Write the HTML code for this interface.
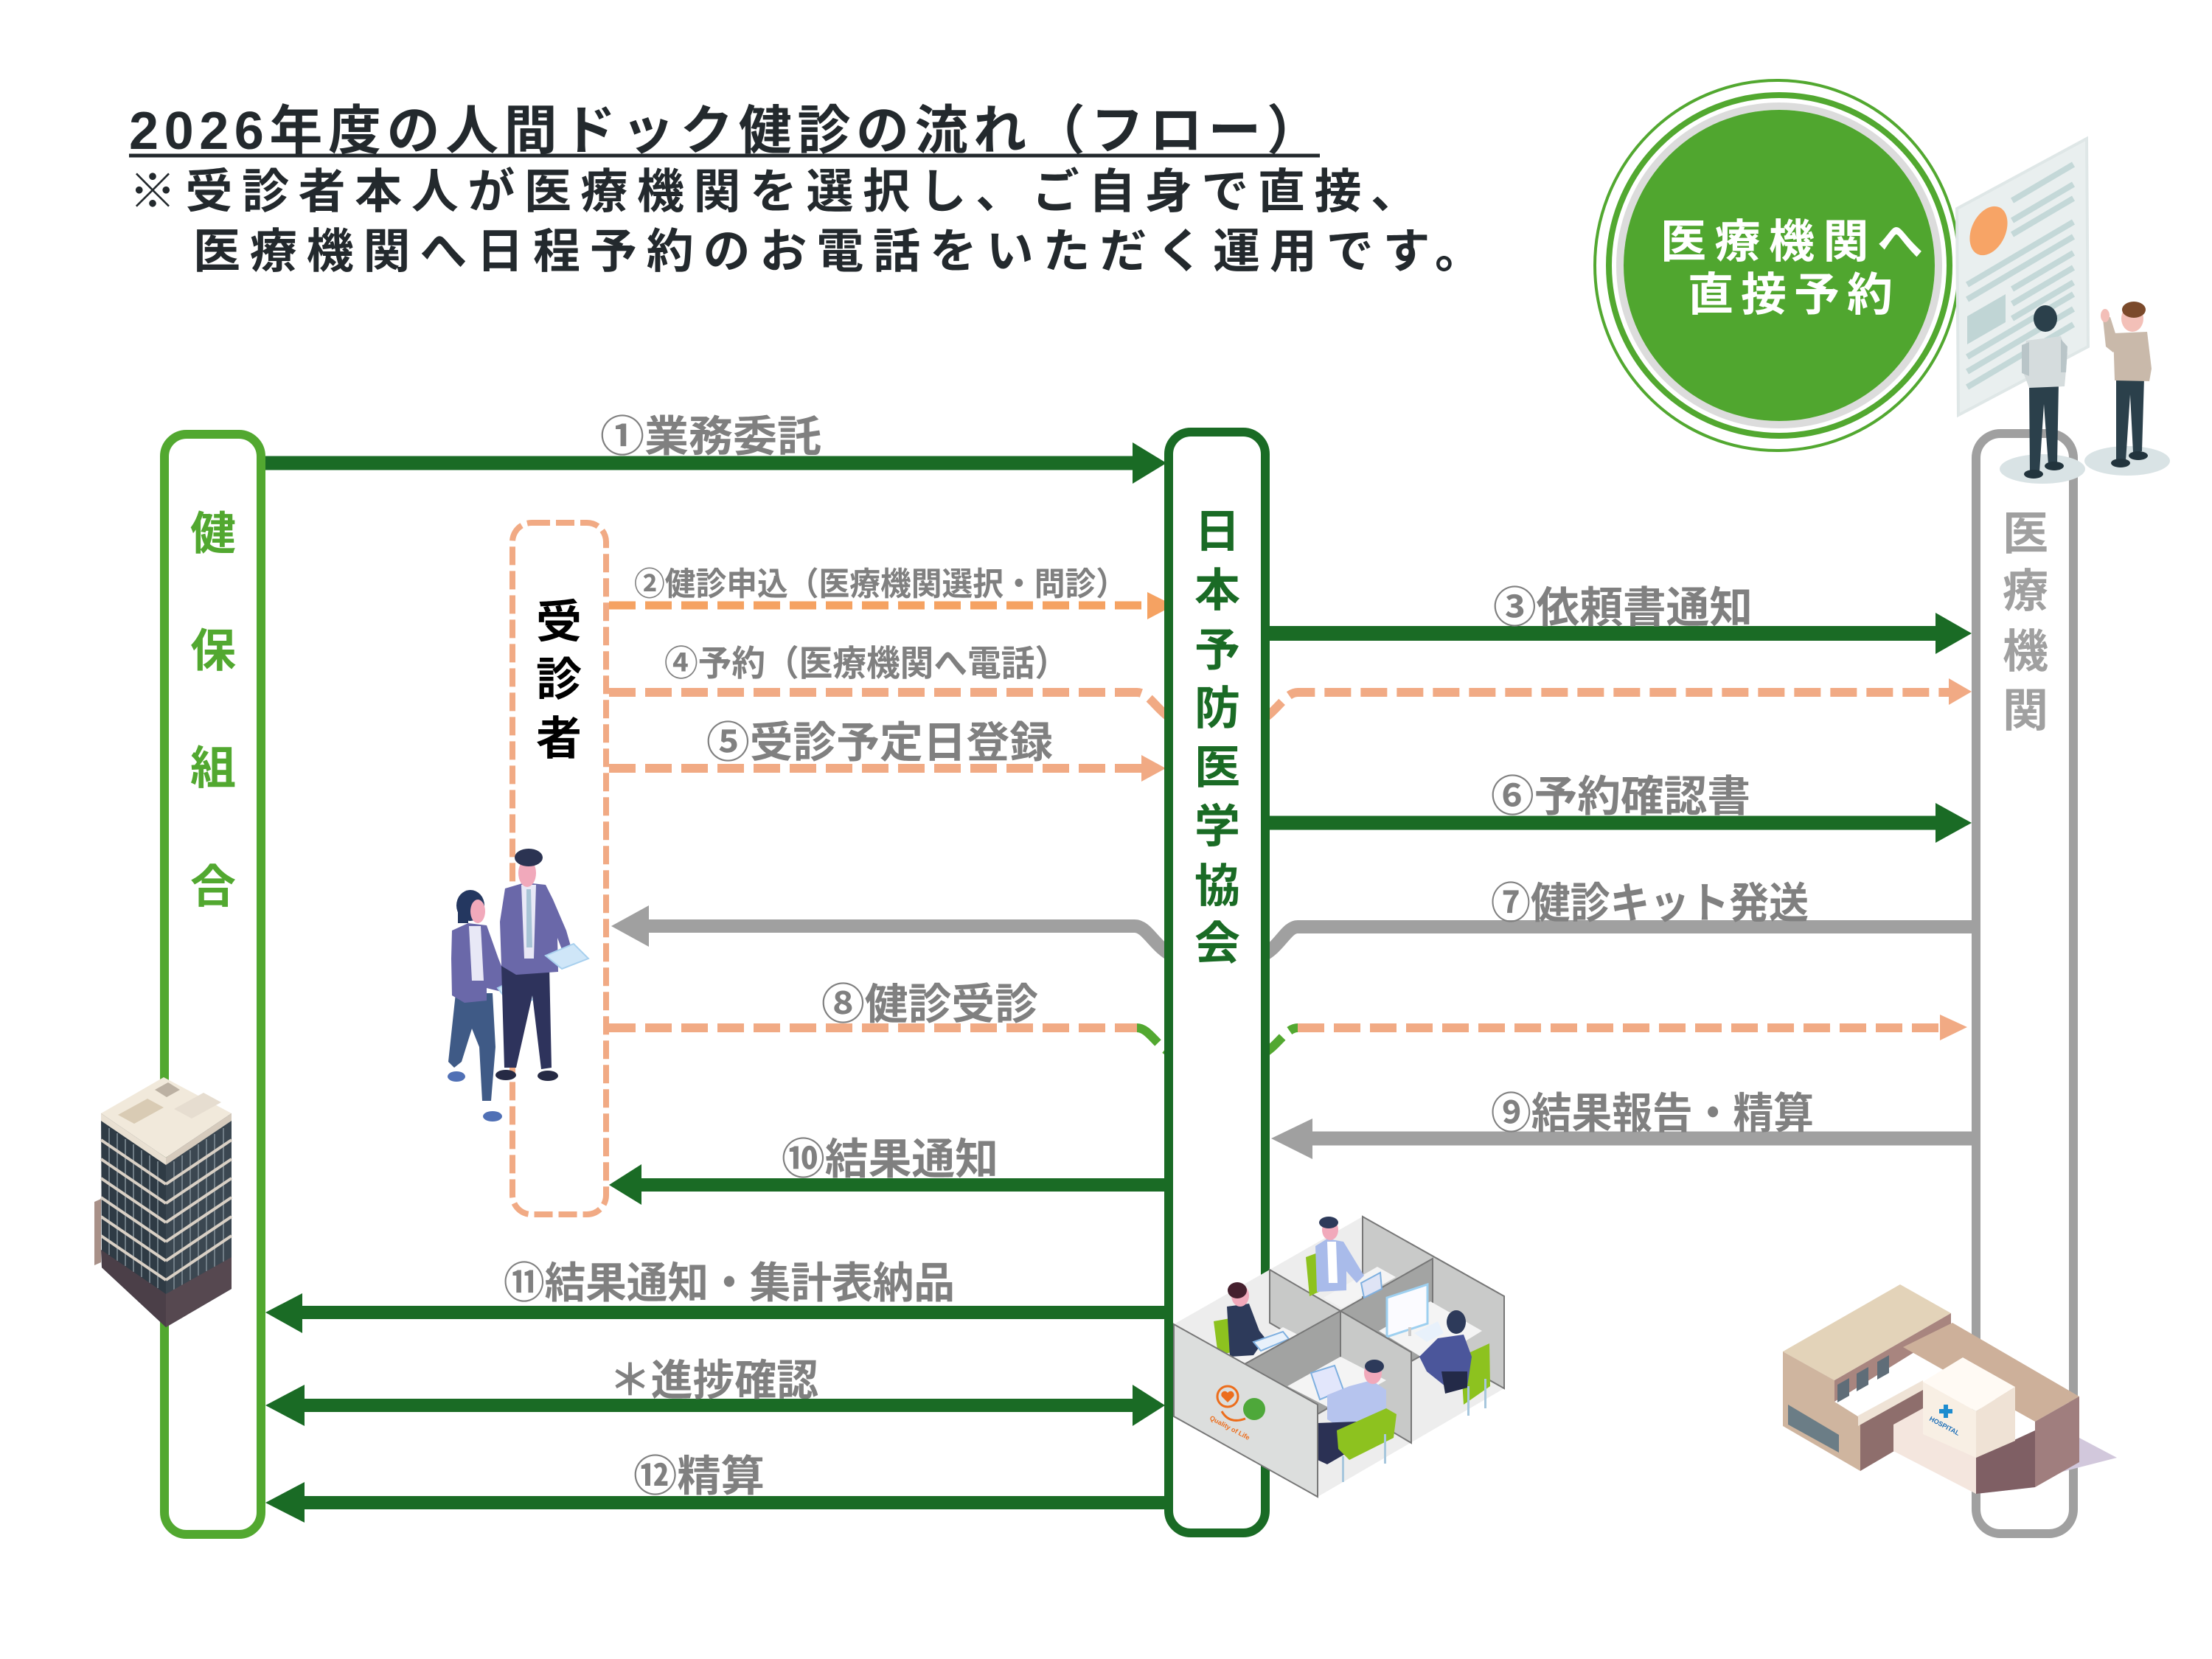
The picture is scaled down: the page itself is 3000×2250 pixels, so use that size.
<!DOCTYPE html>
<html><head><meta charset="utf-8"><style>
html,body{margin:0;padding:0;background:#fff;}
svg{display:block;}
text{font-family:"Liberation Sans","Noto Sans CJK JP",sans-serif;font-weight:bold;}
</style></head><body>
<svg width="3000" height="2250" viewBox="0 0 3000 2250" xmlns="http://www.w3.org/2000/svg">
<rect width="3000" height="2250" fill="#fff"/>

<!-- Title -->
<text x="175" y="202" font-size="72" fill="#23292d" textLength="1615" lengthAdjust="spacing">2026年度の人間ドック健診の流れ（フロー）</text>
<line x1="175" y1="211" x2="1790" y2="211" stroke="#23292d" stroke-width="5"/>
<text x="175" y="282" font-size="64" fill="#23292d" textLength="1748" lengthAdjust="spacing">※受診者本人が医療機関を選択し、ご自身で直接、</text>
<text x="262" y="363" font-size="64" fill="#23292d" textLength="1748" lengthAdjust="spacing">医療機関へ日程予約のお電話をいただく運用です。</text>

<!-- Green circle -->
<ellipse cx="2410" cy="360" rx="247" ry="251" fill="none" stroke="#52a830" stroke-width="4"/>
<circle cx="2413" cy="360" r="231" fill="none" stroke="#52a830" stroke-width="8"/>
<circle cx="2413" cy="360" r="216" fill="none" stroke="#dcdcdc" stroke-width="10"/>
<circle cx="2413" cy="360" r="211" fill="#50a62f"/>
<text x="2252" y="349" font-size="62" fill="#fff" textLength="356" lengthAdjust="spacing">医療機関へ</text>
<text x="2289" y="421" font-size="62" fill="#fff" textLength="278" lengthAdjust="spacing">直接予約</text>

<!-- Document panel top right -->
<polygon points="2654,283 2830,188 2832,470 2656,563" fill="#e9efef" stroke="#dfe7e7" stroke-width="4"/>
<ellipse cx="2697" cy="313" rx="23" ry="35" transform="rotate(25 2697 313)" fill="#f7a466"/>
<g stroke="#c4d8d8" stroke-width="8">
<line x1="2729" y1="272" x2="2812" y2="223"/>
<line x1="2729" y1="299" x2="2812" y2="250"/>
<line x1="2729" y1="318" x2="2812" y2="269"/>
<line x1="2668" y1="386" x2="2812" y2="301"/>
<line x1="2668" y1="406" x2="2812" y2="321"/>
<line x1="2729" y1="392" x2="2812" y2="343"/>
<line x1="2729" y1="412" x2="2812" y2="363"/>
<line x1="2729" y1="432" x2="2812" y2="383"/>
<line x1="2668" y1="484" x2="2812" y2="399"/>
<line x1="2668" y1="504" x2="2812" y2="419"/>
<line x1="2668" y1="525" x2="2812" y2="440"/>
</g>
<polygon points="2668,429 2720,399 2720,437 2668,467" fill="#c0d5d5"/>

<!-- ===== Connector lines ===== -->
<line x1="360" y1="628" x2="1540" y2="628" stroke="#1a6b25" stroke-width="19"/>
<polygon points="1582,628 1536,600 1536,656" fill="#1a6b25"/>
<line x1="826" y1="821" x2="1558" y2="821" stroke="#f5a262" stroke-width="11" stroke-dasharray="36 13"/>
<polygon points="1592,821 1556,803 1556,840" fill="#f5a262"/>
<path d="M826,939 H1542 C1558,939 1568,962 1590,976" fill="none" stroke="#f1aa84" stroke-width="12" stroke-dasharray="36 13"/>
<path d="M1712,976 C1734,962 1744,939 1760,939 H2645" fill="none" stroke="#f1aa84" stroke-width="12" stroke-dasharray="36 13"/>
<polygon points="2674,938 2643,920 2643,956" fill="#f1aa84"/>
<line x1="826" y1="1042" x2="1550" y2="1042" stroke="#f1aa84" stroke-width="12" stroke-dasharray="36 13"/>
<polygon points="1581,1042 1548,1024 1548,1060" fill="#f1aa84"/>
<line x1="1716" y1="859" x2="2628" y2="859" stroke="#1a6b25" stroke-width="20"/>
<polygon points="2674,859 2625,831 2625,887" fill="#1a6b25"/>
<line x1="1716" y1="1116" x2="2628" y2="1116" stroke="#1a6b25" stroke-width="19"/>
<polygon points="2674,1116 2625,1089 2625,1143" fill="#1a6b25"/>
<path d="M2674,1257 H1760 C1744,1257 1736,1285 1710,1297" fill="none" stroke="#a0a0a0" stroke-width="18"/>
<path d="M1592,1297 C1566,1285 1556,1256 1539,1256 H876" fill="none" stroke="#a0a0a0" stroke-width="18"/>
<polygon points="829,1256 880,1228 880,1284" fill="#a0a0a0"/>
<line x1="826" y1="1394" x2="1542" y2="1394" stroke="#f1aa84" stroke-width="12" stroke-dasharray="36 13"/>
<path d="M1542,1394 C1558,1394 1568,1418 1590,1430" fill="none" stroke="#52a830" stroke-width="12" stroke-dasharray="36 13"/>
<path d="M1712,1430 C1734,1418 1744,1394 1760,1394" fill="none" stroke="#52a830" stroke-width="12" stroke-dasharray="36 13"/>
<line x1="1760" y1="1394" x2="2633" y2="1394" stroke="#f1aa84" stroke-width="12" stroke-dasharray="36 13"/>
<polygon points="2668,1393 2631,1376 2631,1411" fill="#f1aa84"/>
<line x1="2674" y1="1544" x2="1776" y2="1544" stroke="#a0a0a0" stroke-width="19"/>
<polygon points="1724,1544 1780,1517 1780,1572" fill="#a0a0a0"/>
<line x1="1585" y1="1607" x2="866" y2="1607" stroke="#1a6b25" stroke-width="18"/>
<polygon points="826,1607 870,1579 870,1634" fill="#1a6b25"/>
<line x1="1585" y1="1780" x2="405" y2="1780" stroke="#1a6b25" stroke-width="18"/>
<polygon points="360,1780 410,1754 410,1808" fill="#1a6b25"/>
<line x1="410" y1="1906" x2="1540" y2="1906" stroke="#1a6b25" stroke-width="18"/>
<polygon points="360,1906 413,1878 413,1934" fill="#1a6b25"/>
<polygon points="1580,1906 1536,1878 1536,1934" fill="#1a6b25"/>
<line x1="1585" y1="2038" x2="410" y2="2038" stroke="#1a6b25" stroke-width="18"/>
<polygon points="360,2038 413,2010 413,2065" fill="#1a6b25"/>

<!-- ===== Boxes ===== -->
<rect x="223" y="589" width="131" height="1492" rx="30" fill="#fff" stroke="#52a830" stroke-width="12"/>
<rect x="695" y="709" width="127" height="938" rx="26" fill="none" stroke="#f1aa84" stroke-width="8" stroke-dasharray="25 8"/>
<rect x="1585" y="586" width="131" height="1493" rx="30" fill="#fff" stroke="#1a6b25" stroke-width="12"/>
<rect x="2680" y="588" width="132" height="1492" rx="33" fill="#fff" stroke="#a0a0a0" stroke-width="12"/>

<g font-size="62" text-anchor="middle">
<g fill="#52a830">
<text x="289" y="745">健</text><text x="289" y="904">保</text><text x="289" y="1063">組</text><text x="289" y="1224">合</text>
</g>
<g fill="#000">
<text x="758" y="865">受</text><text x="758" y="943">診</text><text x="758" y="1023">者</text>
</g>
<g fill="#1a6b25">
<text x="1651" y="742">日</text><text x="1651" y="822">本</text><text x="1651" y="903">予</text><text x="1651" y="982">防</text>
<text x="1651" y="1062">医</text><text x="1651" y="1142">学</text><text x="1651" y="1223">協</text><text x="1651" y="1301">会</text>
</g>
<g fill="#a0a0a0">
<text x="2747" y="745">医</text><text x="2747" y="823">療</text><text x="2747" y="905">機</text><text x="2747" y="985">関</text>
</g>
</g>

<g fill="#808080">
<text x="814" y="612" font-size="58" textLength="300" lengthAdjust="spacingAndGlyphs">①業務委託</text>
<text x="860" y="807" font-size="44" textLength="668" lengthAdjust="spacingAndGlyphs">②健診申込（医療機関選択・問診）</text>
<text x="901" y="916" font-size="48" textLength="548" lengthAdjust="spacingAndGlyphs">④予約（医療機関へ電話）</text>
<text x="958" y="1027" font-size="58" textLength="470" lengthAdjust="spacingAndGlyphs">⑤受診予定日登録</text>
<text x="2025" y="844" font-size="58" textLength="352" lengthAdjust="spacingAndGlyphs">③依頼書通知</text>
<text x="2022" y="1100" font-size="58" textLength="352" lengthAdjust="spacingAndGlyphs">⑥予約確認書</text>
<text x="2022" y="1245" font-size="58" textLength="431" lengthAdjust="spacingAndGlyphs">⑦健診キット発送</text>
<text x="1114" y="1382" font-size="58" textLength="294" lengthAdjust="spacingAndGlyphs">⑧健診受診</text>
<text x="2022" y="1530" font-size="58" textLength="438" lengthAdjust="spacingAndGlyphs">⑨結果報告・精算</text>
<text x="1060" y="1592" font-size="58" textLength="294" lengthAdjust="spacingAndGlyphs">⑩結果通知</text>
<text x="683" y="1760" font-size="58" textLength="612" lengthAdjust="spacingAndGlyphs">⑪結果通知・集計表納品</text>
<text x="826" y="1892" font-size="58" textLength="284" lengthAdjust="spacingAndGlyphs">＊進捗確認</text>
<text x="859" y="2022" font-size="58" textLength="178" lengthAdjust="spacingAndGlyphs">⑫精算</text>
</g>

<!-- ===== People near 受診者 ===== -->
<polygon points="618,1347 668,1347 672,1420 666,1493 654,1493 650,1420 640,1395 626,1440 616,1448 608,1440" fill="#3f5a86"/>
<ellipse cx="619" cy="1460" rx="12" ry="7" fill="#5070b5"/>
<ellipse cx="668" cy="1514" rx="13" ry="7" fill="#5070b5"/>
<polygon points="613,1262 635,1252 660,1255 676,1300 690,1335 680,1345 660,1340 660,1357 630,1360 613,1350 612,1300" fill="#6a68a9"/>
<polygon points="636,1256 652,1256 656,1330 640,1330" fill="#e8e8f6"/>
<ellipse cx="638" cy="1228" rx="19" ry="21" fill="#243760"/>
<ellipse cx="648" cy="1236" rx="10" ry="16" fill="#f1a9bb"/>
<rect x="621" y="1226" width="14" height="26" fill="#243760"/>
<polygon points="675,1340 712,1322 733,1352 695,1366" fill="#cfe6f8" stroke="#a8d0ee" stroke-width="2"/>
<polygon points="680,1310 745,1310 748,1448 734,1450 722,1350 700,1448 684,1448" fill="#2e335c"/>
<ellipse cx="686" cy="1458" rx="14" ry="7" fill="#262a44"/>
<ellipse cx="743" cy="1459" rx="14" ry="7" fill="#262a44"/>
<polygon points="685,1205 712,1197 740,1200 750,1220 768,1262 776,1290 766,1298 756,1272 757,1318 700,1322 680,1310 678,1250" fill="#6a68a9"/>
<polygon points="707,1200 727,1200 724,1300 711,1300" fill="#e8e8f6"/>
<polygon points="714,1206 720,1206 722,1285 714,1285" fill="#a8c4d6"/>
<ellipse cx="715" cy="1184" rx="12" ry="19" fill="#f1a9bb"/>
<ellipse cx="717" cy="1163" rx="19" ry="12" fill="#2b3352"/>
<polygon points="740,1296 778,1280 798,1300 762,1314" fill="#cfe6f8" stroke="#a8d0ee" stroke-width="2"/>

<!-- ===== Office building (left) ===== -->
<polygon points="137,1510 222,1461 314,1510 225,1570" fill="#f1e9db"/>
<polygon points="160,1512 200,1490 222,1502 182,1524" fill="#d9cbb4"/>
<polygon points="236,1504 276,1482 300,1495 260,1517" fill="#e6ddd0"/>
<polygon points="210,1478 228,1468 244,1478 226,1488" fill="#bcb1a3"/>
<polygon points="137,1510 225,1570 225,1800 138,1719" fill="#2f3b45"/>
<polygon points="225,1570 314,1510 314,1748 225,1800" fill="#3b4751"/>
<g stroke="#6f7c85" stroke-width="2">
<line x1="148" y1="1530" x2="148" y2="1702"/><line x1="159" y1="1537" x2="159" y2="1710"/>
<line x1="170" y1="1545" x2="170" y2="1717"/><line x1="181" y1="1552" x2="181" y2="1725"/>
<line x1="192" y1="1560" x2="192" y2="1732"/><line x1="203" y1="1567" x2="203" y2="1740"/>
<line x1="214" y1="1575" x2="214" y2="1747"/>
<line x1="236" y1="1575" x2="236" y2="1749"/><line x1="247" y1="1567" x2="247" y2="1743"/>
<line x1="258" y1="1560" x2="258" y2="1736"/><line x1="269" y1="1552" x2="269" y2="1730"/>
<line x1="280" y1="1545" x2="280" y2="1724"/><line x1="291" y1="1538" x2="291" y2="1718"/>
<line x1="303" y1="1530" x2="303" y2="1711"/>
</g>
<polygon points="137,1510 225,1570 225,1580 137,1520" fill="#e9e0d2"/>
<polygon points="225,1570 314,1510 314,1520 225,1580" fill="#d6cbbd"/>
<g stroke="#d9d0c5" stroke-width="4">
<line x1="137" y1="1546" x2="225" y2="1606"/><line x1="137" y1="1572" x2="225" y2="1632"/>
<line x1="137" y1="1598" x2="225" y2="1658"/><line x1="137" y1="1624" x2="225" y2="1684"/>
<line x1="137" y1="1650" x2="225" y2="1710"/><line x1="137" y1="1676" x2="225" y2="1736"/>
<line x1="225" y1="1606" x2="314" y2="1546"/><line x1="225" y1="1632" x2="314" y2="1572"/>
<line x1="225" y1="1658" x2="314" y2="1598"/><line x1="225" y1="1684" x2="314" y2="1624"/>
<line x1="225" y1="1710" x2="314" y2="1650"/><line x1="225" y1="1736" x2="314" y2="1676"/>
</g>
<polygon points="137,1695 225,1755 225,1800 138,1719" fill="#4b3f48"/>
<polygon points="225,1755 314,1705 314,1748 225,1800" fill="#564850"/>
<polygon points="128,1630 137,1626 137,1712 128,1716" fill="#a89088"/>

<!-- ===== Office cubicles ===== -->
<polygon points="1592,1921 1787,2030 2040,1883 2040,1758 1848,1650 1722,1722 1592,1796" fill="#ededed"/>
<polygon points="1848,1650 2040,1758 2040,1883 1848,1775" fill="#c9cac9" stroke="#777" stroke-width="2"/>
<polygon points="1722,1722 1818,1778 1818,1850 1722,1794" fill="#c8c9c8" stroke="#777" stroke-width="2"/>
<polygon points="1818,1778 1943,1707 1943,1830 1818,1900" fill="#a3a4a3" stroke="#777" stroke-width="2"/>
<polygon points="1795,1760 1868,1718 1893,1732 1820,1774" fill="#f4f4f4"/>
<polygon points="1771,1705 1790,1698 1793,1750 1776,1758" fill="#8dc21f"/>
<polygon points="1784,1690 1800,1680 1822,1684 1850,1730 1840,1740 1826,1724 1826,1750 1786,1752" fill="#a9bbea"/>
<polygon points="1800,1684 1812,1684 1814,1740 1802,1740" fill="#fff"/>
<ellipse cx="1804" cy="1668" rx="11" ry="14" fill="#f1a9bb"/>
<ellipse cx="1802" cy="1658" rx="13" ry="8" fill="#2d3a5a"/>
<polygon points="1846,1740 1872,1726 1874,1748 1850,1760" fill="#dfe4f5" stroke="#7fb0e0" stroke-width="2"/>
<polygon points="1870,1805 1940,1765 2010,1805 1940,1848" fill="#f4f4f4"/>
<polygon points="1881,1760 1936,1742 1936,1795 1881,1813" fill="#fbfbff" stroke="#9ed0f0" stroke-width="3"/>
<line x1="1912" y1="1800" x2="1912" y2="1812" stroke="#ccc" stroke-width="4"/>
<polygon points="1918,1808 1950,1792 1958,1808 1935,1820" fill="#e8f1fb"/>
<polygon points="1981,1840 2020,1822 2021,1880 1985,1905" fill="#8dc21f"/>
<polygon points="1925,1840 1950,1815 1985,1810 1996,1840 1990,1880 1960,1880 1935,1860" fill="#4b569b"/>
<polygon points="1955,1860 1990,1860 1990,1882 1960,1890" fill="#232a48"/>
<ellipse cx="1975" cy="1793" rx="13" ry="16" fill="#2d3a5a"/>
<rect x="1990" y="1880" width="3" height="40" fill="#a7c7dd"/>
<rect x="2013" y="1870" width="3" height="40" fill="#a7c7dd"/>
<polygon points="1670,1840 1740,1800 1770,1815 1700,1855" fill="#f4f4f4"/>
<polygon points="1646,1792 1668,1788 1670,1834 1652,1838" fill="#8dc21f"/>
<polygon points="1664,1772 1694,1768 1708,1805 1716,1815 1700,1838 1668,1840" fill="#2d3a5a"/>
<ellipse cx="1682" cy="1757" rx="12" ry="15" fill="#f1a9bb"/>
<ellipse cx="1678" cy="1750" rx="13" ry="11" fill="#45202e"/>
<polygon points="1700,1820 1740,1806 1748,1816 1710,1832" fill="#e8f1fb" stroke="#7fb0e0" stroke-width="2"/>
<polygon points="1688,1850 1818,1778 1818,1900 1740,1945" fill="#a2a3a2" stroke="#777" stroke-width="2"/>
<polygon points="1818,1778 1914,1834 1914,1957 1818,1900" fill="#c8c9c8" stroke="#777" stroke-width="2"/>
<polygon points="1746,1880 1818,1840 1880,1872 1808,1912" fill="#f4f4f4"/>
<polygon points="1778,1862 1810,1852 1822,1885 1790,1898" fill="#e2e6fb" stroke="#7fb0e0" stroke-width="2"/>
<polygon points="1800,1892 1830,1880 1860,1872 1880,1885 1880,1935 1840,1950 1800,1925" fill="#b6c4ee"/>
<polygon points="1787,1930 1840,1928 1845,1960 1800,1986 1787,1980" fill="#2b3154"/>
<ellipse cx="1862" cy="1862" rx="12" ry="15" fill="#f1a9bb"/>
<ellipse cx="1864" cy="1853" rx="13" ry="9" fill="#2d3a5a"/>
<polygon points="1813,1940 1880,1910 1894,1918 1890,1950 1830,1980 1815,1965" fill="#8dc21f"/>
<rect x="1820" y="1975" width="3" height="35" fill="#a7c7dd"/>
<rect x="1877" y="1945" width="3" height="40" fill="#a7c7dd"/>
<polygon points="1592,1796 1787,1905 1787,2030 1592,1921" fill="#dcdedd" stroke="#777" stroke-width="2"/>
<circle cx="1665" cy="1894" r="14" fill="none" stroke="#ec6d1c" stroke-width="3"/>
<path d="M1665,1902 l-8,-8 a4.5,4.5 0 0 1 8,-5 a4.5,4.5 0 0 1 8,5 z" fill="#ec6d1c"/>
<circle cx="1701" cy="1911" r="15" fill="#4ea83a"/>
<path d="M1657,1914 q10,18 32,10" fill="none" stroke="#ec6d1c" stroke-width="3"/>
<text x="1640" y="1925" font-size="9" fill="#ec6d1c" font-weight="normal" transform="rotate(28 1640 1925)">Quality of Life</text>

<!-- ===== Hospital ===== -->
<polygon points="2680,2026 2871,1977 2820,1950 2760,2017" fill="#d2c8dc"/>
<polygon points="2418,1833 2577,1742 2646,1781 2488,1872" fill="#e3d3b9"/>
<polygon points="2488,1872 2646,1781 2646,1803 2488,1901" fill="#a8857f"/>
<g fill="#5f6d78"><polygon points="2492,1878 2508,1869 2508,1893 2492,1902"/><polygon points="2518,1863 2534,1854 2534,1878 2518,1887"/><polygon points="2546,1847 2562,1838 2562,1862 2546,1871"/></g>
<polygon points="2418,1833 2488,1872 2488,1901 2523,1923 2523,1995 2418,1934" fill="#cfb59f"/>
<polygon points="2425,1905 2494,1946 2494,1970 2425,1932" fill="#6b7d86"/>
<polygon points="2523,1923 2608,1874 2608,1945 2523,1995" fill="#8e6e6c"/>
<polygon points="2520,1920 2608,1872 2608,1885 2520,1934" fill="#efe3d6"/>
<polygon points="2581,1827 2648,1794 2820,1894 2760,1928 2680,1883" fill="#cdb09a"/>
<polygon points="2760,1928 2820,1894 2820,1983 2760,2017" fill="#a07e7e"/>
<polygon points="2680,1977 2760,1940 2760,2017 2680,2026" fill="#7f5f64"/>
<polygon points="2568,1932 2608,1910 2680,1950 2680,2026 2568,1968" fill="#f4e6de"/>
<polygon points="2608,1874 2662,1841 2733,1881 2680,1914" fill="#fffaf4"/>
<polygon points="2608,1874 2680,1914 2680,1977 2608,1945" fill="#f8efe4"/>
<polygon points="2680,1914 2733,1881 2733,1954 2680,1977" fill="#efe2d5"/>
<path d="M2636,1905 h6 v6 h6 v6 h-6 v6 h-6 v-6 h-6 v-6 h6 z" fill="#1d8ccf"/>
<text x="2616" y="1926" font-size="9" fill="#1d6fb8" transform="rotate(28 2616 1926)">HOSPITAL</text>

<!-- ===== Top-right persons ===== -->
<ellipse cx="2770" cy="636" rx="58" ry="20" fill="#d9e3e5"/>
<ellipse cx="2885" cy="625" rx="58" ry="20" fill="#d9e3e5"/>
<polygon points="2752,520 2792,520 2790,628 2778,630 2772,548 2766,640 2753,640" fill="#2b404b"/>
<ellipse cx="2758" cy="643" rx="13" ry="6" fill="#22343d"/>
<ellipse cx="2786" cy="632" rx="13" ry="6" fill="#22343d"/>
<polygon points="2748,462 2795,456 2804,480 2800,524 2752,526 2742,500" fill="#d5dcdd"/>
<polygon points="2742,468 2752,464 2752,510 2742,506" fill="#b9c5c8"/>
<polygon points="2795,460 2804,470 2802,505 2795,505" fill="#b9c5c8"/>
<ellipse cx="2774" cy="432" rx="16" ry="18" fill="#2b404b"/>
<polygon points="2870,512 2908,512 2905,612 2893,614 2889,535 2883,625 2870,625" fill="#2b404b"/>
<ellipse cx="2876" cy="628" rx="13" ry="6" fill="#22343d"/>
<ellipse cx="2900" cy="618" rx="13" ry="6" fill="#22343d"/>
<polygon points="2866,452 2912,450 2918,500 2915,517 2868,516" fill="#c9b9aa"/>
<polygon points="2852,432 2862,430 2874,468 2866,478 2856,470" fill="#c9b9aa"/>
<ellipse cx="2855" cy="428" rx="6" ry="9" fill="#f3bfb8"/>
<ellipse cx="2892" cy="432" rx="15" ry="18" fill="#f3c0b8"/>
<ellipse cx="2894" cy="420" rx="16" ry="11" fill="#7b4a2b"/>
</svg>
</body></html>
